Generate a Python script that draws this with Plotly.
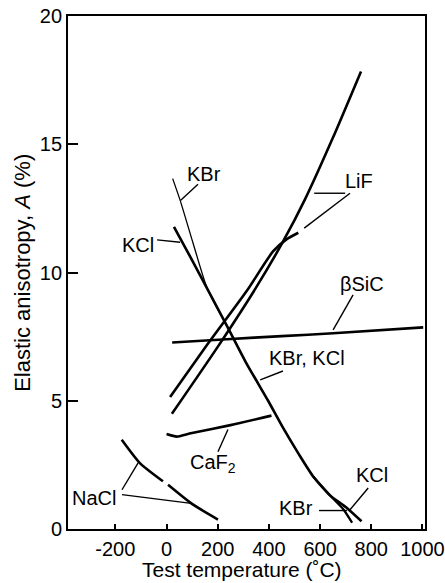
import plotly.graph_objects as go

# ---------------- data ----------------
lif_a_x = [14, 160, 316, 416, 470, 515]
lif_a_y = [5.15, 7.2, 9.32, 10.82, 11.3, 11.55]

lif_b_x = [21, 200, 346, 455, 541, 650, 760]
lif_b_y = [4.49, 7.1, 9.35, 11.2, 12.85, 15.25, 17.84]

kbr_x = [24, 53, 105, 160, 237, 310, 397, 455, 515, 573, 640, 690, 725]
kbr_y = [13.66, 12.82, 11.1, 9.35, 7.9, 6.5, 5.0, 3.95, 2.95, 2.05, 1.3, 0.78, 0.25]

kcl_x = [29, 95, 160, 237, 310, 397, 455, 515, 573, 640, 700, 762]
kcl_y = [11.78, 10.57, 9.35, 7.9, 6.5, 5.0, 3.95, 2.95, 2.05, 1.3, 0.86, 0.3]

sic_x = [22, 236, 450, 651, 1003]
sic_y = [7.27, 7.40, 7.52, 7.63, 7.86]

caf2_x = [0, 40, 90, 250, 410]
caf2_y = [3.7, 3.6, 3.72, 4.05, 4.42]

nacl_lo_x = [-175, -104, -14]
nacl_lo_y = [3.48, 2.57, 1.86]
nacl_hi_x = [6, 104, 201]
nacl_hi_y = [1.73, 0.95, 0.37]

x_ticks = [-200, 0, 200, 400, 600, 800, 1000]
x_tick_text = ["-200", "0", "200", "400", "600", "800", "1000"]
y_ticks = [0, 5, 10, 15, 20]

x_title = "Test temperature (˚C)"
y_title = "Elastic anisotropy, <i>A</i> (%)"

# labels: (text, x, y)
labels = [
    ("KBr", 145, 13.85),
    ("KCl", -111, 11.07),
    ("LiF", 752, 13.56),
    ("βSiC", 764, 9.55),
    ("KBr, KCl", 549, 6.66),
    ("CaF<sub>2</sub>", 182, 2.54),
    ("NaCl", -283, 1.22),
    ("KCl", 803, 2.12),
    ("KBr", 506, 0.83),
]

# leader lines: (x0, y0, x1, y1)
leaders = [
    (55.5, 12.82, 123, 13.44),
    (-37, 11.27, 53, 11.18),
    (577, 13.09, 698, 13.09),
    (717, 13.09, 538, 11.73),
    (729, 9.13, 651, 7.76),
    (455, 6.16, 366, 5.81),
    (201, 3.01, 240, 3.88),
    (-174, 1.53, -111, 2.58),
    (-174, 1.34, 104, 0.99),
    (788, 1.60, 717, 0.75),
    (596, 0.72, 705, 0.72),
]

FONT = "Liberation Sans, Arial, sans-serif"
W = 2.6

fig = go.Figure()

def add(x, y, width=W):
    fig.add_trace(go.Scatter(x=x, y=y, mode="lines",
                             line=dict(color="black", width=width, shape="spline", smoothing=0.6),
                             showlegend=False, hoverinfo="skip"))

add(lif_a_x, lif_a_y)
add(lif_b_x, lif_b_y)
add(kbr_x, kbr_y, 1.3)
add(kcl_x, kcl_y)
add(kbr_x[-4:], kbr_y[-4:], 2.2)
add(sic_x, sic_y)
add(caf2_x, caf2_y)
add(nacl_lo_x, nacl_lo_y)
add(nacl_hi_x, nacl_hi_y)

for (t, x, y) in labels:
    fig.add_annotation(x=x, y=y, text=t, showarrow=False,
                       font=dict(family=FONT, size=20, color="black"),
                       xanchor="center", yanchor="middle")

for (x0, y0, x1, y1) in leaders:
    fig.add_shape(type="line", x0=x0, y0=y0, x1=x1, y1=y1, xref="x", yref="y",
                  line=dict(color="black", width=1.4))

# axis titles placed as paper-referenced text
fig.add_annotation(x=0.487, y=-0.079, xref="paper", yref="paper", text=x_title,
                   showarrow=False, xanchor="center", yanchor="middle",
                   font=dict(family=FONT, size=21, color="black"))
fig.add_annotation(x=-0.128, y=0.5, xref="paper", yref="paper", text=y_title,
                   showarrow=False, xanchor="center", yanchor="middle", textangle=-90,
                   font=dict(family=FONT, size=22, color="black"))

fig.update_layout(
    width=445, height=583,
    margin=dict(l=68, r=20, t=16, b=54, autoexpand=False),
    paper_bgcolor="white", plot_bgcolor="white",
    font=dict(family=FONT, size=20, color="black"),
    xaxis=dict(range=[-385, 1010], tickvals=x_ticks, ticktext=x_tick_text,
               ticks="inside", ticklen=5, ticklabelstandoff=1, automargin=False,
               tickwidth=1.5, tickcolor="black", showline=True, linewidth=1.8,
               linecolor="black", mirror=True, showgrid=False, zeroline=False,
               tickfont=dict(size=20)),
    yaxis=dict(range=[0, 20], tickvals=y_ticks, ticks="inside", ticklen=10,
               automargin=False,
               tickwidth=1.5, tickcolor="black", showline=True, linewidth=1.8,
               linecolor="black", mirror=True, showgrid=False, zeroline=False,
               tickfont=dict(size=20)),
)

fig.write_html("out.html")
